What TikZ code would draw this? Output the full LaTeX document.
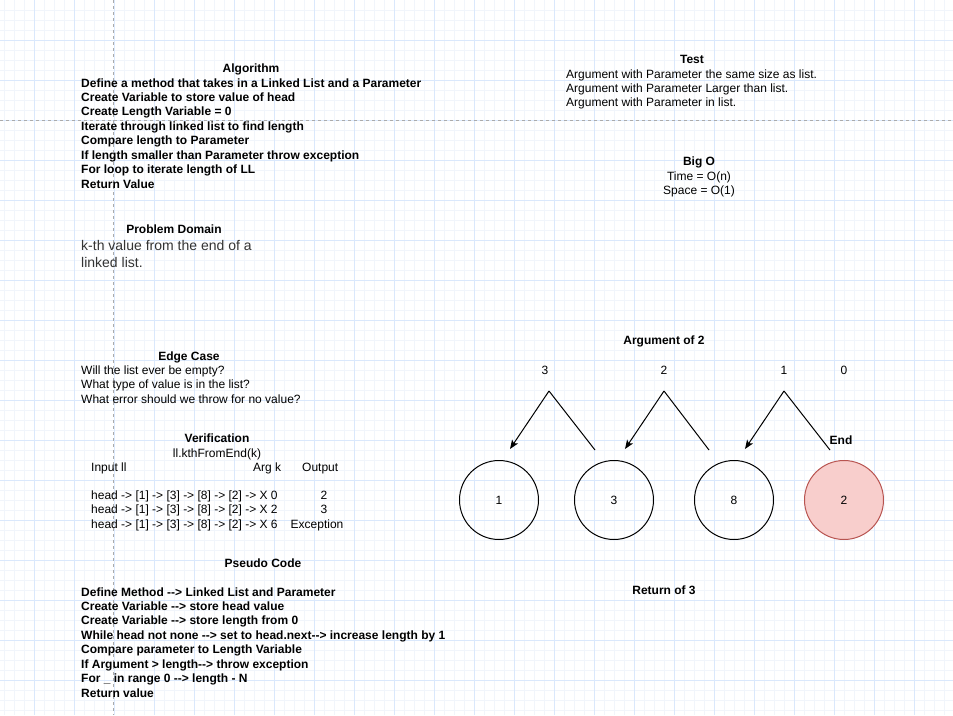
\documentclass[tikz,border=0pt]{standalone}
\usepackage{fontspec}
\setmainfont{Liberation Sans}
\usepackage{xcolor}
\usetikzlibrary{arrows.meta,positioning}

\definecolor{gridmajor}{HTML}{DAE8FC}
\definecolor{gridminor}{HTML}{F1F5FB}
\definecolor{guide}{HTML}{ABABAB}
\definecolor{endfill}{HTML}{F8CECC}
\definecolor{enddraw}{HTML}{B85450}
\definecolor{domaintext}{HTML}{333333}

\tikzset{
    txt/.style={inner sep=0pt, font=\fontsize{12}{14}\selectfont},
    heading/.style={inner sep=0pt, font=\fontsize{12}{14}\selectfont\bfseries},
    listnode/.style={circle, draw, line width=1pt, minimum size=79pt, inner sep=0pt, font=\fontsize{12}{14}\selectfont},
    pointer/.style={line width=1pt, -{Stealth[length=9pt,width=7pt,inset=2pt]}},
    guideline/.style={guide, line width=1pt, dash pattern=on 3pt off 3pt}
}

\begin{document}
\begin{tikzpicture}[x=1pt,y=-1pt]
    \fill[white] (0,0) rectangle (953,715);
    \useasboundingbox (0,0) rectangle (953,715);
    % background grid
    \foreach \x in {4,14,...,944}
        \draw[gridminor, line width=1pt] (\x,0) -- (\x,715);
    \foreach \y in {10,20,...,710}
        \draw[gridminor, line width=1pt] (0,\y) -- (953,\y);
    \foreach \x in {34,74,...,914}
        \draw[gridmajor, line width=1pt] (\x,0) -- (\x,715);
    \foreach \y in {40,80,...,680}
        \draw[gridmajor, line width=1pt] (0,\y) -- (953,\y);
    \draw[guideline] (113.5,0) -- (113.5,715);
    \draw[guideline] (0,120) -- (953,120);

    % algorithm
    \node[heading, anchor=base] (algtitle) at (251,72) {Algorithm};
    \foreach \txt [count=\i from 0] in {Define a method that takes in a Linked List and a Parameter, Create Variable to store value of head, Create Length Variable = 0, Iterate through linked list to find length, Compare length to Parameter, If length smaller than Parameter throw exception, For loop to iterate length of LL, Return Value}
        \node[heading, anchor=base west] (alg\i) at (81, 87+14.43*\i) {\txt};

    % problem domain
    \node[heading, anchor=base] (domtitle) at (174,233) {Problem Domain};
    \node[txt, anchor=base west, font=\fontsize{14}{17}\selectfont, text=domaintext] (dom0) at (81,250) {k-th value from the end of a};
    \node[txt, anchor=base west, font=\fontsize{14}{17}\selectfont, text=domaintext] (dom1) at (81,267) {linked list.};

    % edge case
    \node[heading, anchor=base] (edgetitle) at (189,360) {Edge Case};
    \foreach \txt [count=\i from 0] in {Will the list ever be empty?, What type of value is in the list?, What error should we throw for no value?}
        \node[txt, anchor=base west] (edge\i) at (81, 374+14.5*\i) {\txt};

    % verification
    \node[heading, anchor=base] (vertitle) at (217,442) {Verification};
    \node[txt, anchor=base] (vercall) at (217,457) {ll.kthFromEnd(k)};
    \node[txt, anchor=base west] (verin) at (91,471) {Input ll};
    \node[txt, anchor=base west] (verarg) at (253,471) {Arg k};
    \node[txt, anchor=base west] (verout) at (302,471) {Output};
    \foreach \k/\out/\ox [count=\i from 0] in {0/2/324, 2/3/324, 6/Exception/317}{
        \node[txt, anchor=base west] (row\i) at (91, 499+14.5*\i) {head -> [1] -> [3] -> [8] -> [2] -> X \k};
        \node[txt, anchor=base] (res\i) at (\ox, 499+14.5*\i) {\out};
    }

    % pseudo code
    \node[heading, anchor=base] (pseudotitle) at (263,567) {Pseudo Code};
    \foreach \txt [count=\i from 0] in {Define Method -{}-> Linked List and Parameter, Create Variable -{}-> store head value, Create Variable -{}-> store length from 0, While head not none -{}-> set to head.next-{}-> increase length by 1, Compare parameter to Length Variable, If Argument > length-{}-> throw exception, For \_ in range 0 -{}-> length - N, Return value}
        \node[heading, anchor=base west] (pseudo\i) at (81, 596+14.43*\i) {\txt};

    % test
    \node[heading, anchor=base] (testtitle) at (692,63) {Test};
    \foreach \txt [count=\i from 0] in {Argument with Parameter the same size as list., Argument with Parameter Larger than list., Argument with Parameter in list.}
        \node[txt, anchor=base west] (test\i) at (566, 78+14.2*\i) {\txt};

    % big o
    \node[heading, anchor=base] (bigotitle) at (699,165) {Big O};
    \node[txt, anchor=base] (time) at (699,180) {Time = O(n)};
    \node[txt, anchor=base] (space) at (699,194) {Space = O(1)};

    % linked list example
    \node[heading, anchor=base] (argtitle) at (664,344) {Argument of 2};
    \foreach \x/\n in {545/3, 664/2, 784/1, 844/0}
        \node[txt, anchor=base] (count\n) at (\x,374) {\n};
    \foreach \x/\v in {499/1, 614/3, 734/8}
        \node[listnode] (node\v) at (\x,500) {\v};
    \node[listnode, fill=endfill, draw=enddraw] (node2) at (844,500) {2};
    \node[heading, anchor=base] (endlabel) at (841,444) {End};
    \foreach \i/\ax/\tx/\ex in {1/549/510/595, 2/664/625/709, 3/784/745/830}{
        \coordinate (apex\i) at (\ax,391);
        \coordinate (tip\i) at (\tx,449);
        \coordinate (tail\i) at (\ex,450);
        \draw[pointer] (apex\i) -- (tip\i);
        \draw[line width=1pt] (apex\i) -- (tail\i);
    }
    \node[heading, anchor=base] (rettitle) at (664,594) {Return of 3};
\end{tikzpicture}
\end{document}
